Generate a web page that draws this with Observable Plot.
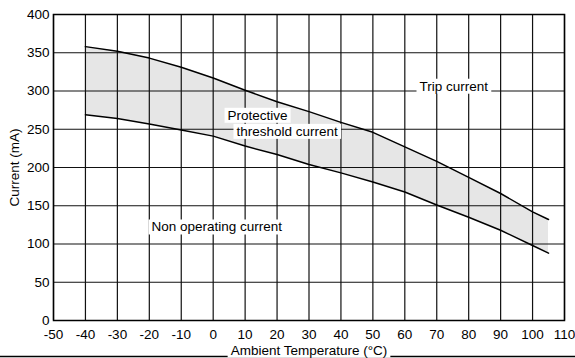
<!DOCTYPE html>
<html>
<head>
<meta charset="utf-8">
<script src="https://cdn.jsdelivr.net/npm/d3@7"></script>
<script src="https://cdn.jsdelivr.net/npm/@observablehq/plot@0.6"></script>
<style>
  html, body { margin: 0; padding: 0; background: #fff; }
  svg { display: block; }
</style>
</head>
<body>
<div id="chart"></div>
<script>
// Data
const temps = [-40, -30, -20, -10, 0, 10, 20, 30, 40, 50, 60, 70, 80, 90, 100, 105];
const tripCurrent = [358, 352, 343, 331, 317, 301, 286, 273, 259, 246, 227, 208, 187, 166, 142, 132];
const nonOperatingCurrent = [269, 264, 257, 249, 241, 228, 217, 204, 193, 181, 168, 151, 135, 118, 98, 88];

const xTicks = [-50, -40, -30, -20, -10, 0, 10, 20, 30, 40, 50, 60, 70, 80, 90, 100, 110];
const yTicks = [0, 50, 100, 150, 200, 250, 300, 350, 400];

const labelTexts = ["Trip current", "Protective", "threshold current", "Non operating current"];
const labelX = [64.6, 4.5, 7.3, -19.3];
const labelY = [306, 268, 247, 122];

const rows = temps.map((t, i) => ({t, trip: tripCurrent[i], non: nonOperatingCurrent[i]}));
const labels = labelTexts.map((text, i) => ({text, x: labelX[i], y: labelY[i]}));

const FONT = "Liberation Sans, Arial, Helvetica, sans-serif";

const svg = Plot.plot({
  width: 575,
  height: 358,
  marginLeft: 53,
  marginRight: 11,
  marginTop: 14,
  marginBottom: 38,
  style: {fontFamily: FONT, fontSize: "13.5px", color: "#000", background: "#fff", overflow: "hidden"},
  x: {domain: [-50, 110]},
  y: {domain: [0, 400]},
  marks: [
    Plot.areaY(rows, {x: "t", y1: "non", y2: "trip", fill: "#e6e6e6"}),
    Plot.gridX(xTicks, {stroke: "#111", strokeOpacity: 1, strokeWidth: 1.2}),
    Plot.gridY(yTicks, {stroke: "#111", strokeOpacity: 1, strokeWidth: 1.2}),
    Plot.axisX(xTicks, {tickSize: 0, tickPadding: 9, fontSize: 13.5, label: "Ambient Temperature (°C)", labelArrow: "none", labelAnchor: "center", labelOffset: 34, tickFormat: d => String(d)}),
    Plot.axisY(yTicks, {tickSize: 0, tickPadding: 4, fontSize: 13.5, label: "Current (mA)", labelArrow: "none", labelAnchor: "center", labelOffset: 44, tickFormat: d => String(d)}),
    Plot.line(rows, {x: "t", y: "trip", stroke: "#000", strokeWidth: 1.5}),
    Plot.line(rows, {x: "t", y: "non", stroke: "#000", strokeWidth: 1.5}),
    Plot.text(labels, {x: "x", y: "y", text: "text", textAnchor: "start", fill: "#000", fontSize: 13.5}),
    Plot.frame({stroke: "#000", strokeWidth: 1.5})
  ]
});

document.getElementById("chart").appendChild(svg);

// strip any axis-label arrows
svg.querySelectorAll("text").forEach(t => {
  if (/[↑↓←→]/.test(t.textContent)) t.textContent = t.textContent.replace(/\s*[↑↓←→]\s*/g, "").trim();
});

// White boxes behind labels
function boxBehind(textEl, padX, padY) {
  const b = textEl.getBBox();
  const rect = document.createElementNS("http://www.w3.org/2000/svg", "rect");
  rect.setAttribute("x", b.x - padX);
  rect.setAttribute("y", b.y - padY);
  rect.setAttribute("width", b.width + 2 * padX);
  rect.setAttribute("height", b.height + 2 * padY);
  rect.setAttribute("fill", "#fff");
  const tr = textEl.getAttribute("transform");
  if (tr) rect.setAttribute("transform", tr);
  textEl.parentNode.insertBefore(rect, textEl);
}
svg.querySelectorAll("text").forEach(t => {
  if (labelTexts.includes(t.textContent)) boxBehind(t, 3, 0);
});

// bottom rule of the original figure, under the x-axis title
const sel = d3.select(svg);
sel.insert("line", ":first-child")
  .attr("x1", 0).attr("x2", 575).attr("y1", 356.5).attr("y2", 356.5)
  .attr("stroke", "#000").attr("stroke-width", 1.5);
svg.querySelectorAll("text").forEach(t => {
  if (t.textContent === "Ambient Temperature (°C)") boxBehind(t, 3, 0);
});
</script>
</body>
</html>
